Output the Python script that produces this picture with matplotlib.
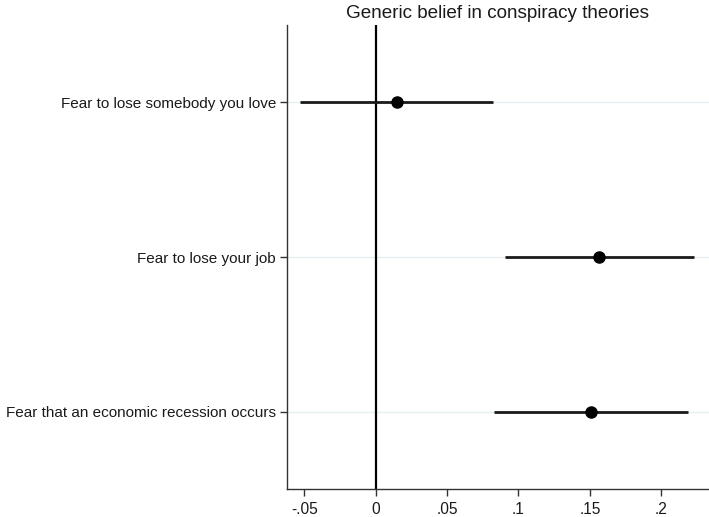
import numpy as np
import matplotlib.pyplot as plt

plt.rcParams['font.family'] = ['Liberation Sans', 'DejaVu Sans']

labels = ['Fear to lose somebody you love', 'Fear to lose your job',
          'Fear that an economic recession occurs']
coef = [0.0149, 0.1564, 0.1508]
lo = [-0.0530, 0.0905, 0.0828]
hi = [0.0821, 0.2229, 0.2187]
xticks = [-0.05, 0, 0.05, 0.1, 0.15, 0.2]
xticklabels = ['-.05', '0', '.05', '.1', '.15', '.2']

fig = plt.figure(figsize=(7.09, 5.17), dpi=100)
ax = fig.add_axes([287 / 709, 1 - 489 / 517, 1 - 287 / 709, (489 - 25) / 517])

ypos = np.arange(1, len(labels) + 1)
for y in ypos:
    ax.axhline(y, color='#e6eef0', lw=1, zorder=0)
ax.axvline(0, color='black', lw=1.6, zorder=1)
ax.hlines(ypos, lo, hi, color='#1a1a1a', lw=2, zorder=2)
ax.plot(coef, ypos, 'o', color='black', markersize=8, zorder=3)

ax.set_ylim(3.5, 0.5)
ax.set_xlim(-0.0621, 0.2334)
ax.set_yticks(ypos)
ax.set_yticklabels(labels, fontsize=11)
ax.set_xticks(xticks)
ax.set_xticklabels(xticklabels, fontsize=11.2)
ax.tick_params(length=5, width=1, color='#333333', labelcolor='#1a1a1a')
ax.tick_params(axis='y', pad=3)
ax.tick_params(axis='x', pad=4)

for s in ['top', 'right']:
    ax.spines[s].set_visible(False)
for s in ['left', 'bottom']:
    ax.spines[s].set_color('#333333')
    ax.spines[s].set_linewidth(1)

ax.set_title('Generic belief in conspiracy theories', fontsize=13.6, pad=5, color='#1a1a1a')

fig.savefig('out.png', dpi=100, facecolor='white')
